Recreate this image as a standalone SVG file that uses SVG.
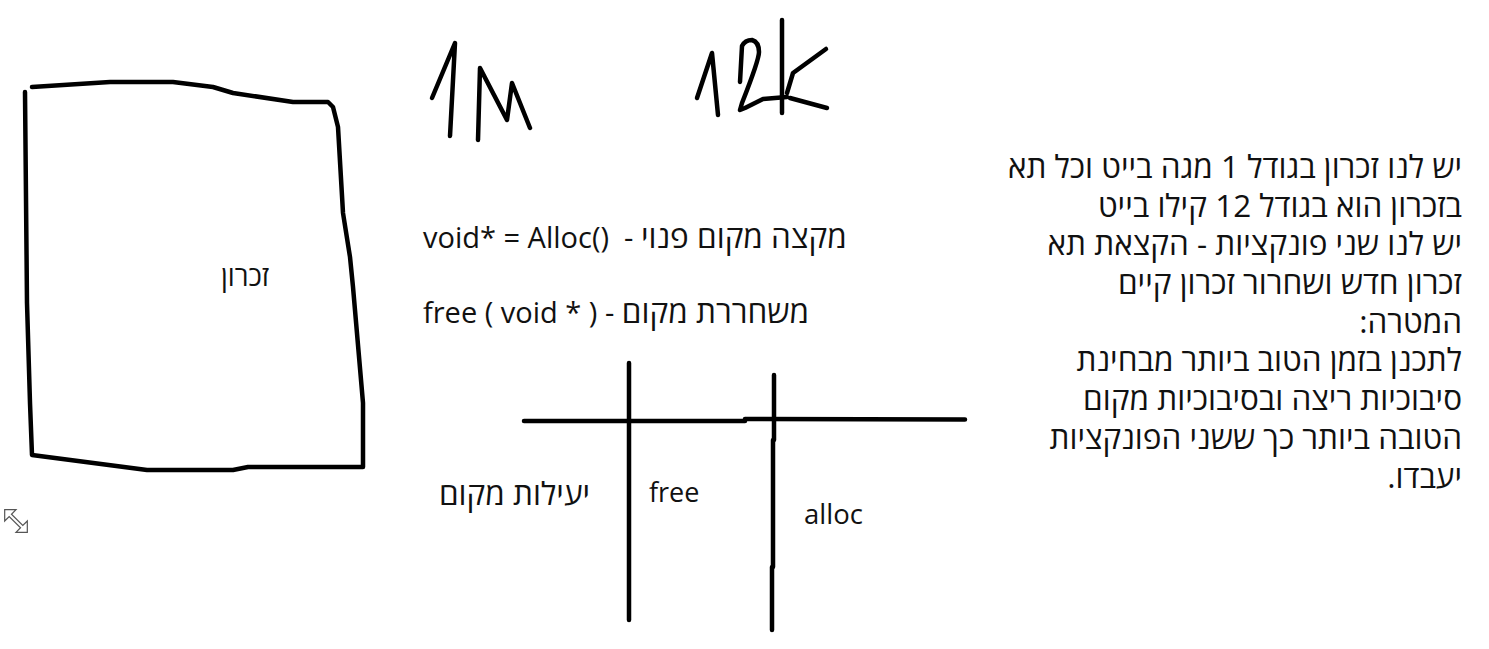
<svg xmlns="http://www.w3.org/2000/svg" width="1489" height="649" viewBox="0 0 1489 649">
<style>
.ink{fill:none;stroke:#000;stroke-width:4.5;stroke-linecap:round;stroke-linejoin:round}
.pen{fill:none;stroke:#000;stroke-width:4.5;stroke-linecap:round;stroke-linejoin:round}
.t{font-family:"Open Sans","DejaVu Sans","Liberation Sans",sans-serif;font-size:31.5px;fill:#111}
.lat{font-size:29px}
.heb{font-size:31.5px}
.rtl{direction:rtl;text-anchor:start}
</style>
<rect x="0" y="0" width="1489" height="649" fill="#ffffff"/>
<g id="memory-box">
<path class="ink" d="M32,87 L110,82 L173,82 L213,87 L233,93 L293,102 L328,102 L333,107 L338,127 L343,213 L350,257 L353,287 L363,403 L363,467 L248,467 L233,470 L147,470 L32,455 L30,403 L27,303 L25,92"/>
<text class="t" x="245" y="286" text-anchor="middle" style="font-size:27.5px">זכרון</text>
</g>
<g id="handwriting-1m">
<path class="pen" d="M432,98 L455,43 L450,136"/>
<path class="pen" d="M478,140 L480,68 L507,120 L512,83 L530,128"/>
</g>
<g id="handwriting-12k">
<path class="pen" d="M697,98 L712,53 L718,115"/>
<path class="pen" d="M740,82 L742,46 Q745,40 752,40 Q759,42 759,52 Q759,60 742,103 L740,110 L745,108 L763,99 L787,97"/>
<path class="pen" d="M782,20 L782,113"/>
<path class="pen" d="M826,49 L793,73 L787,93"/>
<path class="pen" d="M790,98 L827,108"/>
</g>
<g id="functions">
<text class="t" x="423" y="248" xml:space="preserve"><tspan class="lat">void* = Alloc()  - </tspan><tspan class="heb">מקצה מקום פנוי</tspan></text>
<text class="t" x="423" y="323" xml:space="preserve"><tspan class="lat">free ( void * ) - </tspan><tspan class="heb">משחררת מקום</tspan></text>
</g>
<g id="connectors">
<path class="ink" d="M524,421 L745,421"/>
<path class="ink" d="M745,419 L965,419.5"/>
<path class="ink" d="M629,363 L629,620"/>
<path class="ink" d="M774,375 L774,440 L773,440 L773,567 L772,567 L772,630"/>
</g>
<g id="table-labels">
<text class="t rtl" x="590" y="505">יעילות מקום</text>
<text class="t" x="649" y="502" style="font-size:27px">free</text>
<text class="t" x="804" y="524" style="font-size:27.5px">alloc</text>
</g>
<g id="description">
<text class="t rtl" x="1462" y="178">יש לנו זכרון בגודל 1 מגה בייט וכל תא</text>
<text class="t rtl" x="1462" y="217">בזכרון הוא בגודל 12 קילו בייט</text>
<text class="t rtl" x="1462" y="255">יש לנו שני פונקציות - הקצאת תא</text>
<text class="t rtl" x="1462" y="294">זכרון חדש ושחרור זכרון קיים</text>
<text class="t rtl" x="1462" y="333">המטרה:</text>
<text class="t rtl" x="1462" y="371">לתכנן בזמן הטוב ביותר מבחינת</text>
<text class="t rtl" x="1462" y="410">סיבוכיות ריצה ובסיבוכיות מקום</text>
<text class="t rtl" x="1462" y="449">הטובה ביותר כך ששני הפונקציות</text>
<text class="t rtl" x="1462" y="488">יעבדו.</text>
</g>
<g id="resize-icon">
<path d="M-16,0 L-8,-8 L-8,-1.6 L8,-1.6 L8,-8 L16,0 L8,8 L8,1.6 L-8,1.6 L-8,8 Z" transform="translate(16,521) rotate(45)" fill="#fff" stroke="#555" stroke-width="1.2" stroke-linejoin="miter"/>
</g>
</svg>
